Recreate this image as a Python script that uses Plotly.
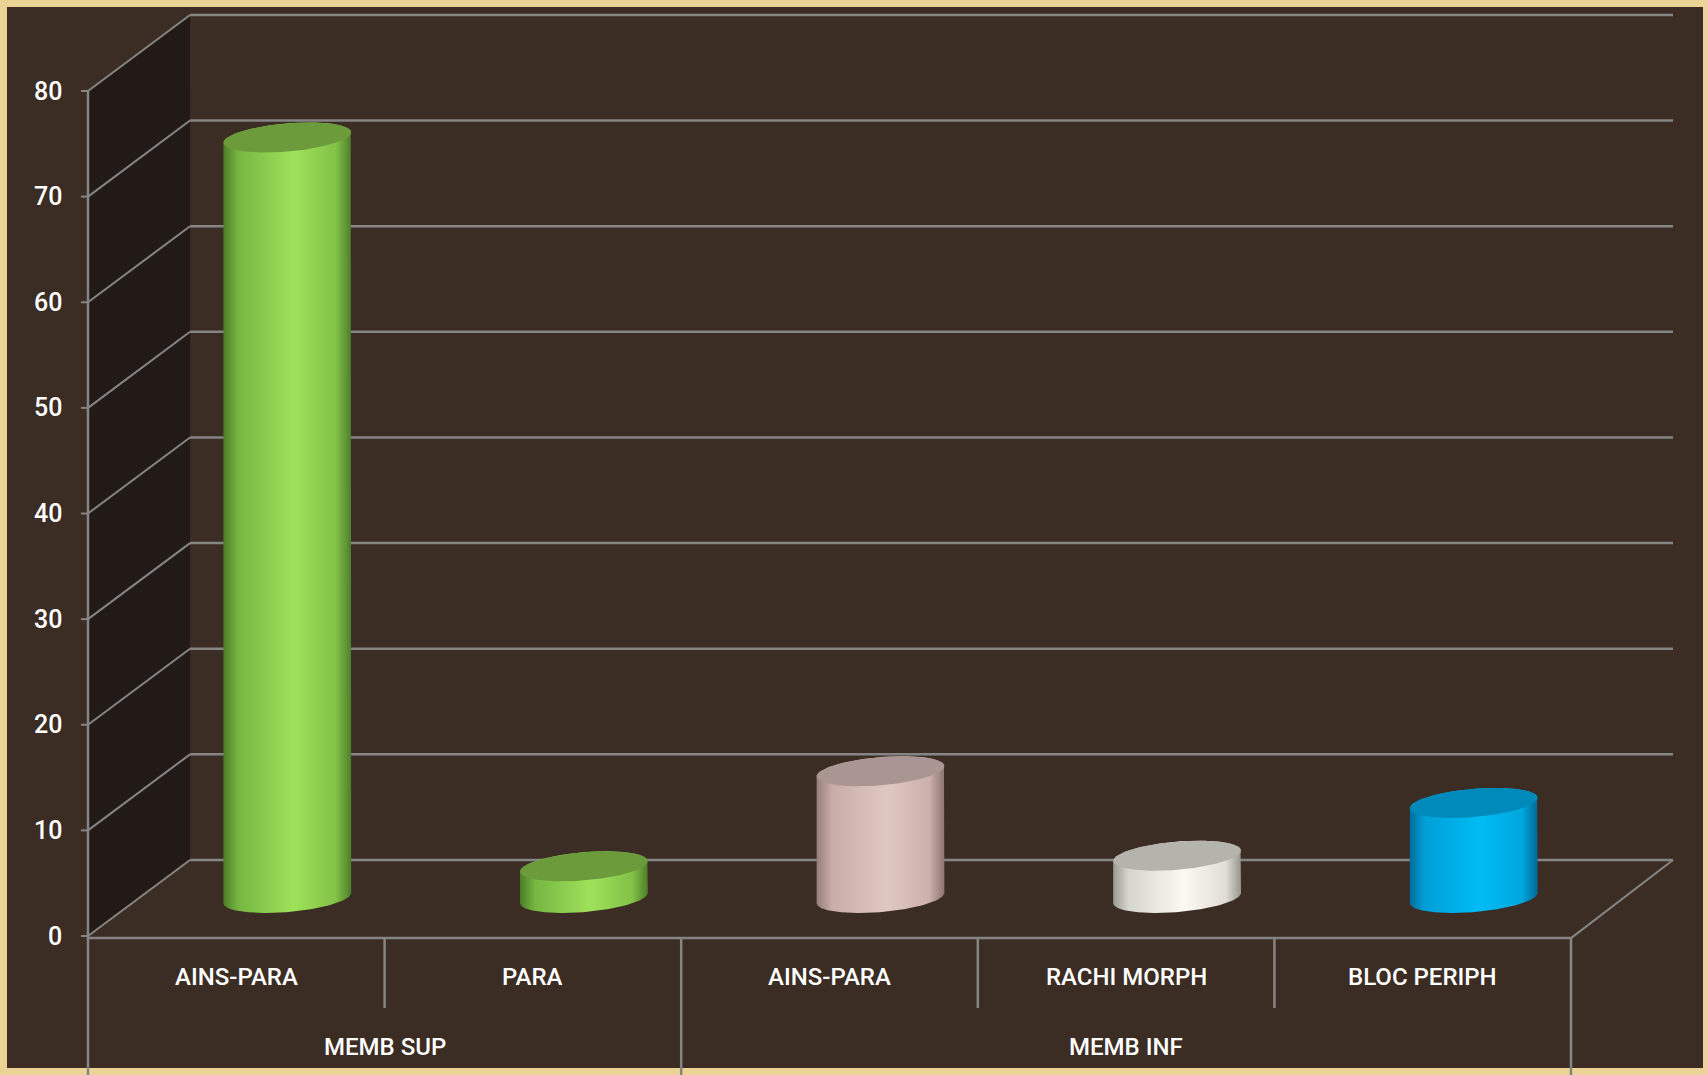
import numpy as np
import plotly.graph_objects as go

# ---- data ----
categories = ["AINS-PARA", "PARA", "AINS-PARA", "RACHI MORPH", "BLOC PERIPH"]
groups = ["MEMB SUP", "MEMB INF"]
group_sizes = [2, 3]
values = [72, 3, 12, 4, 9]
y_ticks = [0, 10, 20, 30, 40, 50, 60, 70, 80]

# ---- style ----
W, H = 1707, 1075
PX_PER_CAT = 296.6          # horizontal pixels per category
PX_PER_VAL = 10.5625        # vertical pixels per value unit
ORIGIN_PX = (88, 936)       # pixel position of the front-left floor corner
DX, DY = 0.344, 7.2         # oblique depth offset (category units, value units)
Y_MAX = 80
GRID = "#858585"
PANEL = "#3b2c24"
SIDE_WALL = "#221a16"
BORDER = "#ead394"
FONT = "Roboto, Liberation Sans, Arial, sans-serif"

body_scales = [
    ["#4d7d28", "#76b742", "#9fe25a", "#82c247", "#4e7e2b"],
    ["#4d7d28", "#76b742", "#9fe25a", "#82c247", "#4e7e2b"],
    ["#967e7a", "#c8ada8", "#e0c8c2", "#ccb1ac", "#8c7672"],
    ["#9a9a94", "#d6d6ce", "#fbf9f1", "#e0ded6", "#96968f"],
    ["#006c9c", "#00a0d6", "#00bcf4", "#00a6dc", "#006896"],
]
top_colors = ["#6c9b3c", "#6c9b3c", "#a99592", "#b4b3ac", "#0089bb"]

# cylinder cross-section (oblique ellipse) in data units
A = 60 / PX_PER_CAT
B = 22 / PX_PER_CAT
C = 15 / PX_PER_VAL

x_range = [-ORIGIN_PX[0] / PX_PER_CAT, (W - ORIGIN_PX[0]) / PX_PER_CAT]
y_range = [(ORIGIN_PX[1] - H) / PX_PER_VAL, ORIGIN_PX[1] / PX_PER_VAL]

fig = go.Figure()
shapes = []
annotations = []

label_font = dict(family=FONT, size=24, color="white", weight=500)

# dark chart panel inside the golden frame
shapes.append(dict(type="rect", xref="paper", yref="paper",
                   x0=7 / W, x1=1703 / W, y0=1 - 1068 / H, y1=1 - 7 / H,
                   fillcolor=PANEL, line=dict(width=0), layer="below"))

# left side wall
shapes.append(dict(type="path", xref="x", yref="y", layer="below",
                   path=f"M 0,0 L {DX},{DY} L {DX},{Y_MAX + DY} L 0,{Y_MAX} Z",
                   fillcolor=SIDE_WALL, line=dict(width=0)))

n = len(categories)
# gridlines on back wall and side wall
for v in y_ticks:
    shapes.append(dict(type="line", xref="x", yref="y", layer="below",
                       x0=DX, y0=v + DY, x1=n + DX, y1=v + DY,
                       line=dict(color=GRID, width=2.5)))
    shapes.append(dict(type="line", xref="x", yref="y", layer="below",
                       x0=0, y0=v, x1=DX, y1=v + DY,
                       line=dict(color=GRID, width=2)))
    # tick mark
    shapes.append(dict(type="line", xref="x", yref="y", layer="below",
                       x0=-7 / PX_PER_CAT, y0=v, x1=0, y1=v,
                       line=dict(color=GRID, width=2)))
    annotations.append(dict(x=-0.08, y=v, xref="x", yref="y", text=str(v),
                            showarrow=False, xanchor="right", yanchor="middle",
                            font=dict(family=FONT, size=25, color="white", weight=500)))

# front value axis (continues down through the category area)
shapes.append(dict(type="line", xref="x", yref="y", layer="below",
                   x0=0, y0=Y_MAX, x1=0, y1=y_range[0],
                   line=dict(color=GRID, width=2.5)))
# floor front and right edges
shapes.append(dict(type="line", xref="x", yref="y", layer="below",
                   x0=0, y0=-0.2, x1=n, y1=-0.2, line=dict(color=GRID, width=2.5)))
shapes.append(dict(type="line", xref="x", yref="y", layer="below",
                   x0=n, y0=-0.2, x1=n + DX, y1=DY, line=dict(color=GRID, width=2)))

# category dividers: short between categories, long between groups
group_edges = set(np.cumsum(group_sizes).tolist())
cat_low = (ORIGIN_PX[1] - 1008) / PX_PER_VAL
for k in range(1, n + 1):
    y_end = y_range[0] if k in group_edges else cat_low
    shapes.append(dict(type="line", xref="x", yref="y", layer="below",
                       x0=k, y0=-0.2, x1=k, y1=y_end,
                       line=dict(color=GRID, width=2.5)))

# category and group labels
cat_label_y = (ORIGIN_PX[1] - 977) / PX_PER_VAL
grp_label_y = (ORIGIN_PX[1] - 1047) / PX_PER_VAL
for i, c in enumerate(categories):
    annotations.append(dict(x=i + 0.5, y=cat_label_y, xref="x", yref="y", text=c,
                            showarrow=False, xanchor="center", yanchor="middle",
                            font=label_font))
start = 0
for g, s in zip(groups, group_sizes):
    annotations.append(dict(x=start + s / 2, y=grp_label_y, xref="x", yref="y", text=g,
                            showarrow=False, xanchor="center", yanchor="middle",
                            font=label_font))
    start += s

# cylinders
theta0 = np.arctan2(B, A)


def ellipse(cx, cy, t):
    return cx + A * np.cos(t) + B * np.sin(t), cy + C * np.sin(t)


for i, v in enumerate(values):
    cx = i + 0.5 + DX / 2
    base = DY / 2
    top = base + v
    t_front = np.linspace(theta0 + np.pi, theta0 + 2 * np.pi, 80)
    t_back = np.linspace(theta0, theta0 + np.pi, 80)
    bx, by = ellipse(cx, base, t_front)
    tx, ty = ellipse(cx, top, t_back)
    xs = np.concatenate([bx, tx, bx[:1]])
    ys = np.concatenate([by, ty, by[:1]])
    stops = body_scales[i]
    fig.add_trace(go.Scatter(
        x=xs, y=ys, mode="lines", fill="toself", line=dict(width=0),
        fillgradient=dict(type="horizontal",
                          colorscale=[[0, stops[0]], [0.12, stops[1]], [0.55, stops[2]],
                                      [0.88, stops[3]], [1, stops[4]]]),
        hoverinfo="skip", showlegend=False))
    t_all = np.linspace(0, 2 * np.pi, 160)
    ex, ey = ellipse(cx, top, t_all)
    fig.add_trace(go.Scatter(
        x=ex, y=ey, mode="lines", fill="toself", line=dict(width=0),
        fillcolor=top_colors[i], hoverinfo="skip", showlegend=False))

fig.update_layout(
    width=W, height=H,
    margin=dict(l=0, r=0, t=0, b=0),
    paper_bgcolor=BORDER,
    plot_bgcolor="rgba(0,0,0,0)",
    xaxis=dict(range=x_range, visible=False, fixedrange=True),
    yaxis=dict(range=y_range, visible=False, fixedrange=True),
    shapes=shapes,
    annotations=annotations,
    showlegend=False,
)

fig.write_html("out.html", config={"displayModeBar": False})
